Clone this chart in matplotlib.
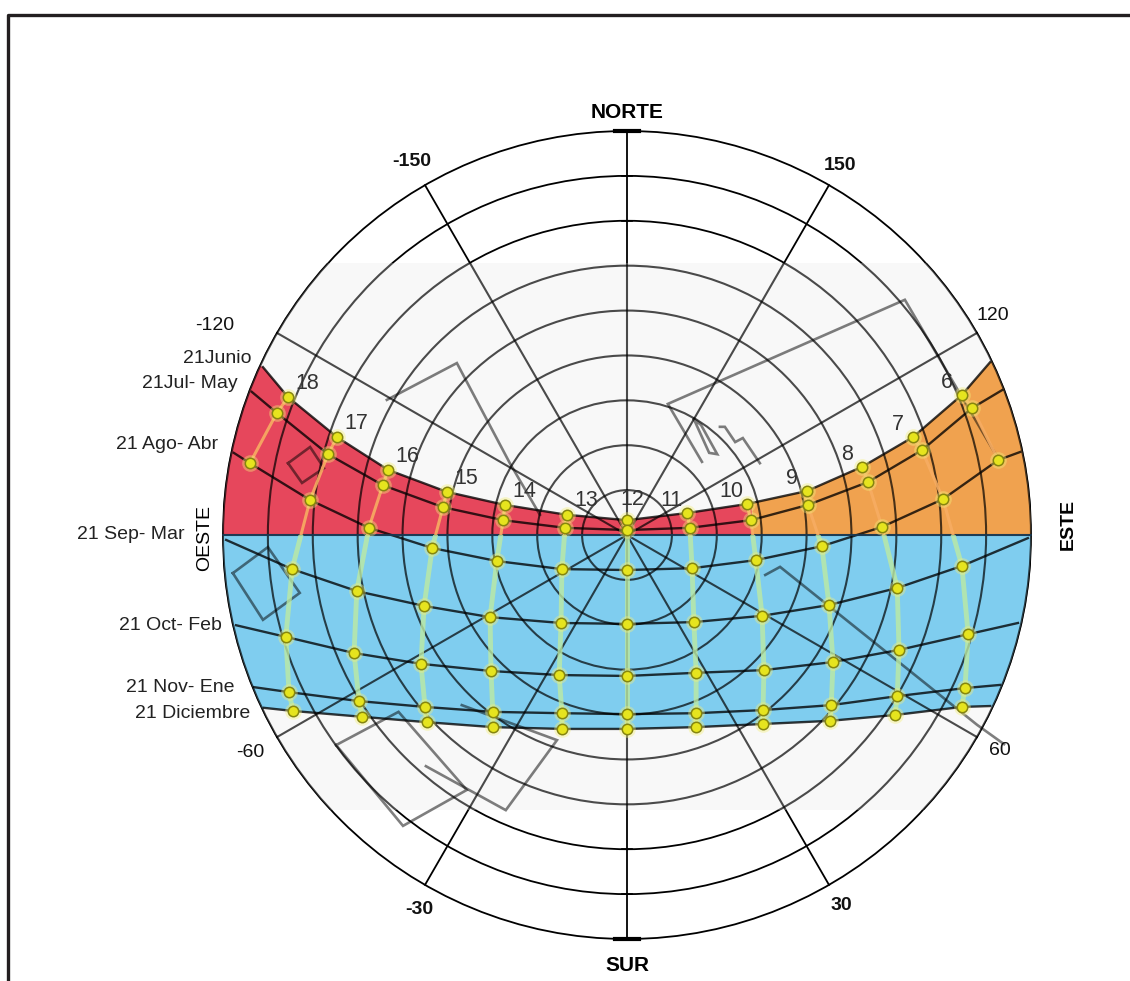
import numpy as np
import matplotlib
matplotlib.use("Agg")
import matplotlib.pyplot as plt
from matplotlib.patches import Circle, Rectangle, Polygon

plt.rcParams["font.family"] = ["Liberation Sans", "DejaVu Sans"]

# ---------------------------------------------------------------------------
# Data (chart units: outer horizon circle = 90, x = east offset, y = north offset)
# ---------------------------------------------------------------------------
HOURS = [6, 7, 8, 9, 10, 11, 12, 13, 14, 15, 16, 17, 18]
DATE_LABELS = ["21Junio", "21Jul- May", "21 Ago- Abr", "21 Sep- Mar",
               "21 Oct- Feb", "21 Nov- Ene", "21 Diciembre"]
nan = np.nan

# sun positions, 6h ... 18h
junio_x = [74.6, 63.7, 52.4, 40.1, 26.7, 13.4, 0.0, -13.4, -27.2, -40.1, -53.2, -64.6, -75.5]
junio_y = [31.2, 21.8, 15.2, 9.8, 6.9, 4.9, 3.3, 4.5, 6.7, 9.6, 14.5, 21.8, 30.7]
julmay_x = [76.9, 65.7, 53.7, 40.3, 27.6, 14.0, 0.0, -13.8, -27.6, -41.0, -54.4, -66.6, -78.0]
julmay_y = [28.3, 18.9, 11.8, 6.7, 3.3, 1.6, 1.1, 1.6, 3.3, 6.2, 11.1, 18.0, 27.2]
agoabr_x = [82.7, 70.4, 56.8, 43.4, 28.7, 14.5, 0.0, -14.5, -29.0, -43.4, -57.5, -70.6, -84.0]
agoabr_y = [16.7, 8.0, 1.8, -2.5, -5.6, -7.4, -7.8, -7.6, -5.8, -2.9, 1.6, 7.8, 16.0]
sepmar_x = [nan, 74.6, 60.2, 45.0, 30.1, 14.9, 0.0, -14.7, -30.5, -45.2, -60.2, -74.6, nan]
sepmar_y = [nan, -6.9, -11.8, -15.6, -18.0, -19.4, -19.8, -19.6, -18.3, -15.8, -12.5, -7.6, nan]
octfeb_x = [nan, 76.0, 60.6, 45.9, 30.5, 15.4, 0.0, -15.1, -30.3, -45.9, -60.8, -76.0, nan]
octfeb_y = [nan, -22.1, -25.6, -28.3, -30.1, -30.7, -31.4, -31.2, -30.3, -28.7, -26.3, -22.7, nan]
novene_x = [nan, 75.3, 60.2, 45.5, 30.3, 15.4, 0.0, -14.5, -29.9, -45.0, -59.7, -75.3, nan]
novene_y = [nan, -34.1, -35.9, -37.9, -39.0, -39.7, -39.9, -39.7, -39.4, -38.3, -37.0, -35.0, nan]
dic_x = [nan, 74.6, 59.7, 45.2, 30.3, 15.4, 0.0, -14.5, -29.9, -44.6, -59.0, -74.4, nan]
dic_y = [nan, -38.3, -40.1, -41.4, -42.1, -42.8, -43.2, -43.2, -42.8, -41.7, -40.5, -39.2, nan]

SUN_X = [junio_x, julmay_x, agoabr_x, sepmar_x, octfeb_x, novene_x, dic_x]
SUN_Y = [junio_y, julmay_y, agoabr_y, sepmar_y, octfeb_y, novene_y, dic_y]

# where each day path meets the horizon circle (east end, west end)
edge_e_x = [80.9, 83.6, 87.6, 89.3, 87.1, 83.1, 80.9]
edge_e_y = [38.5, 32.3, 18.5, -0.7, -19.6, -33.4, -38.1]
edge_w_x = [-81.1, -83.6, -87.6, -89.3, -87.1, -83.1, -80.9]
edge_w_y = [37.4, 31.9, 18.3, -1.1, -20.1, -33.9, -38.5]

# polar grid
RINGS = [10, 20, 30, 40, 50, 60, 70, 80, 90]
AZ_LINES = [-150, -120, -90, -60, -30, 0, 30, 60, 90, 120, 150, 180]
AZ_LABELS = [-150, 150, -120, 120, -60, 60, -30, 30]
AZ_LABEL_POS = [-150, 150, -117, 121, -60, 60, -29, 30]
AZ_LABEL_R = [96, 95, 103, 95, 97, 96, 95.5, 95.3]

# obstruction outlines
obst_ne_x = [16.7, 9.1, 61.9, 83.1]
obst_ne_y = [16.3, 29.2, 52.4, 16.3]
obst_ne2_x = [20.7, 21.8, 24.1, 25.8, 29.6]
obst_ne2_y = [24.1, 24.1, 20.7, 21.6, 16.0]
obst_ne3_x = [14.9, 18.3, 20.1, 16.5, 14.9]
obst_ne3_y = [25.8, 18.3, 18.0, 24.5, 25.8]
obst_se_x = [30.8, 34.1, 78.0, 84.0]
obst_se_y = [-8.9, -7.1, -42.3, -46.6]
obst_w_x = [-87.8, -80.0, -72.9, -81.1, -87.8]
obst_w_y = [-8.5, -2.7, -12.9, -18.9, -8.5]
obst_w2_x = [-75.5, -70.6, -67.5, -72.4, -75.5]
obst_w2_y = [16.0, 19.6, 14.9, 11.6, 16.0]
obst_nw_x = [-53.5, -37.9, -26.1, -19.4]
obst_nw_y = [30.1, 38.3, 16.0, 4.5]
obst_sw_x = [-64.8, -50.9, -35.7, -49.9, -64.8]
obst_sw_y = [-46.8, -39.4, -56.8, -64.8, -46.8]
obst_s_x = [-36.8, -15.6, -27.0, -44.8]
obst_s_y = [-37.9, -45.7, -61.3, -51.5]
OBSTACLES = [(obst_ne_x, obst_ne_y), (obst_ne2_x, obst_ne2_y), (obst_ne3_x, obst_ne3_y),
             (obst_se_x, obst_se_y), (obst_w_x, obst_w_y), (obst_w2_x, obst_w2_y),
             (obst_nw_x, obst_nw_y), (obst_sw_x, obst_sw_y), (obst_s_x, obst_s_y)]

SPLIT_X = 27.9          # afternoon / morning colour split
BAND_TOP, BAND_BOT = 60.6, -61.3

# ---------------------------------------------------------------------------
W, H = 1130, 981
CX, CY = 627, 535
PX = 90 / 404.0

fig = plt.figure(figsize=(W / 100, H / 100), dpi=100)
ax = fig.add_axes([0, 0, 1, 1])
ax.set_xlim(-CX * PX, (W - CX) * PX)
ax.set_ylim(-(H - CY) * PX, CY * PX)
ax.axis("off")


def draw_grid(color, lw, z, alpha=1.0, clip=None):
    arts = []
    for r in RINGS:
        c = Circle((0, 0), r, fill=False, ec=color, lw=lw, alpha=alpha, zorder=z)
        ax.add_patch(c)
        arts.append(c)
    for az in AZ_LINES:
        a = np.radians(az)
        ln, = ax.plot([0, 90 * np.sin(a)], [0, -90 * np.cos(a)],
                      color=color, lw=lw, alpha=alpha, zorder=z)
        arts.append(ln)
    if clip is not None:
        for a in arts:
            a.set_clip_path(clip)


def day_curve(i):
    x = np.array([edge_e_x[i]] + SUN_X[i] + [edge_w_x[i]], float)
    y = np.array([edge_e_y[i]] + SUN_Y[i] + [edge_w_y[i]], float)
    ok = ~np.isnan(x)
    return x[ok], y[ok]


# outer crisp grid
draw_grid("black", 1.3, 1)

# pasted inner band
horizon = Circle((0, 0), 90, transform=ax.transData)
band = Rectangle((-90, BAND_BOT), 180, BAND_TOP - BAND_BOT, fc="#f8f8f8", ec="none", zorder=1.5)
ax.add_patch(band)
band.set_clip_path(horizon)

# coloured sky regions
jx, jy = day_curve(0)
jx, jy = jx[::-1], jy[::-1]
xs = np.linspace(jx[0], SPLIT_X, 120)
arc = np.linspace(np.pi, np.arctan2(jy[0], jx[0]), 60)
red = np.vstack([np.c_[xs, np.interp(xs, jx, jy)], [[SPLIT_X, 0], [-90, 0]],
                 np.c_[90 * np.cos(arc), 90 * np.sin(arc)]])
ax.add_patch(Polygon(red, closed=True, fc="#e6475c", ec="none", zorder=2))

xs2 = np.linspace(SPLIT_X, jx[-1], 120)
arc2 = np.linspace(np.arctan2(jy[-1], jx[-1]), 0, 60)
orange = np.vstack([np.c_[xs2, np.interp(xs2, jx, jy)],
                    np.c_[90 * np.cos(arc2), 90 * np.sin(arc2)], [[SPLIT_X, 0]]])
ax.add_patch(Polygon(orange, closed=True, fc="#f0a24f", ec="none", zorder=2))

dx_, dy_ = day_curve(6)
arc_e = np.linspace(0, np.arctan2(dy_[0], dx_[0]), 40)
arc_w = np.linspace(np.arctan2(dy_[-1], dx_[-1]), -np.pi, 40)
blue = np.vstack([[[-90, 0], [90, 0]], np.c_[90 * np.cos(arc_e), 90 * np.sin(arc_e)],
                  np.c_[dx_, dy_], np.c_[90 * np.cos(arc_w), 90 * np.sin(arc_w)]])
ax.add_patch(Polygon(blue, closed=True, fc="#7fcdef", ec="none", zorder=2))

# inner (blurred) grid on top of the colours
band_clip = Rectangle((-90, BAND_BOT), 180, BAND_TOP - BAND_BOT, transform=ax.transData)
draw_grid("black", 1.5, 3, alpha=0.7, clip=band_clip)

# day paths
for i in range(len(DATE_LABELS)):
    x, y = day_curve(i)
    ax.plot(x, y, color="black", lw=1.7, alpha=0.78, zorder=3.2)

# obstructions
for ox, oy in OBSTACLES:
    ax.plot(ox, oy, color="black", lw=1.9, alpha=0.5, zorder=3.1, solid_joinstyle="miter")

ax.plot([-90, 90], [0, 0], color="#1b3f5c", lw=1.2, zorder=3.3)

# hour lines
upper = Rectangle((-95, 0), 190, 95, transform=ax.transData)
lower = Rectangle((-95, -95), 190, 95, transform=ax.transData)
sx = np.array(SUN_X, float)
sy = np.array(SUN_Y, float)
for j in range(len(HOURS)):
    ok = ~np.isnan(sx[:, j])
    l1, = ax.plot(sx[ok, j], sy[ok, j], color="#f7ad62", lw=2.2, alpha=0.9, zorder=3.5)
    l1.set_clip_path(upper)
    l2, = ax.plot(sx[ok, j], sy[ok, j], color="#bdeaa2", lw=3.5, alpha=0.8, zorder=3.5)
    l2.set_clip_path(lower)

# sun markers
ax.plot(sx.ravel(), sy.ravel(), "o", ms=12, color="#f4f07a", alpha=0.4, mew=0, zorder=4)
ax.plot(sx.ravel(), sy.ravel(), "o", ms=7.5, mfc="#e6e41e", mec="#86860e", mew=1.1, zorder=5)

# north / south bars
for s in (1, -1):
    ax.plot([-2.6, 2.6], [90 * s, 90 * s], color="black", lw=3, zorder=5)
    for r in (70, 80):
        ax.plot([-1.2, 1.2], [r * s, r * s], color="black", lw=1.2, zorder=5)

# ---------------------------------------------------------------------------
# text
# ---------------------------------------------------------------------------
ax.text(0, 94.2, "NORTE", ha="center", va="center", fontsize=15, fontweight="bold")
ax.text(0, -96.0, "SUR", ha="center", va="center", fontsize=15, fontweight="bold")
ax.text(98.3, 2.3, "ESTE", ha="center", va="center", rotation=90, fontsize=14,
        fontweight="bold")
ax.text(-94.0, -0.7, "OESTE", ha="center", va="center", rotation=90, fontsize=14)

for lab, az, r in zip(AZ_LABELS, AZ_LABEL_POS, AZ_LABEL_R):
    a = np.radians(az)
    bold = abs(lab) in (150, 30)
    ax.text(r * np.sin(a), -r * np.cos(a), str(lab), ha="center", va="center",
            fontsize=14, fontweight="bold" if bold else "normal", color="#111111")

label_dy = [6, 6, 6, 4, 0, 0, -4]
label_dx = [-8, -10, -11, -30, -10, -14, -10]
for i, lab in enumerate(DATE_LABELS):
    ax.annotate(lab, (edge_w_x[i], edge_w_y[i]), xytext=(label_dx[i], label_dy[i]),
                textcoords="offset points", ha="right", va="center", fontsize=14,
                color="#222222")

for j, h in enumerate(HOURS):
    if h > 12:
        off = (14, 10)
    elif h < 12:
        off = (-11, 9)
    else:
        off = (4, 15)
    ax.annotate(str(h), (junio_x[j], junio_y[j]), xytext=off, textcoords="offset points",
                ha="center", va="center", fontsize=15.5, color="#333333", zorder=6)

# page frame
ax.plot([8 / W, 8 / W, 1], [0, 1 - 15 / H, 1 - 15 / H], transform=ax.transAxes,
        color="#231f20", lw=2.4, clip_on=False, zorder=7)

fig.savefig("out.png", dpi=100)
